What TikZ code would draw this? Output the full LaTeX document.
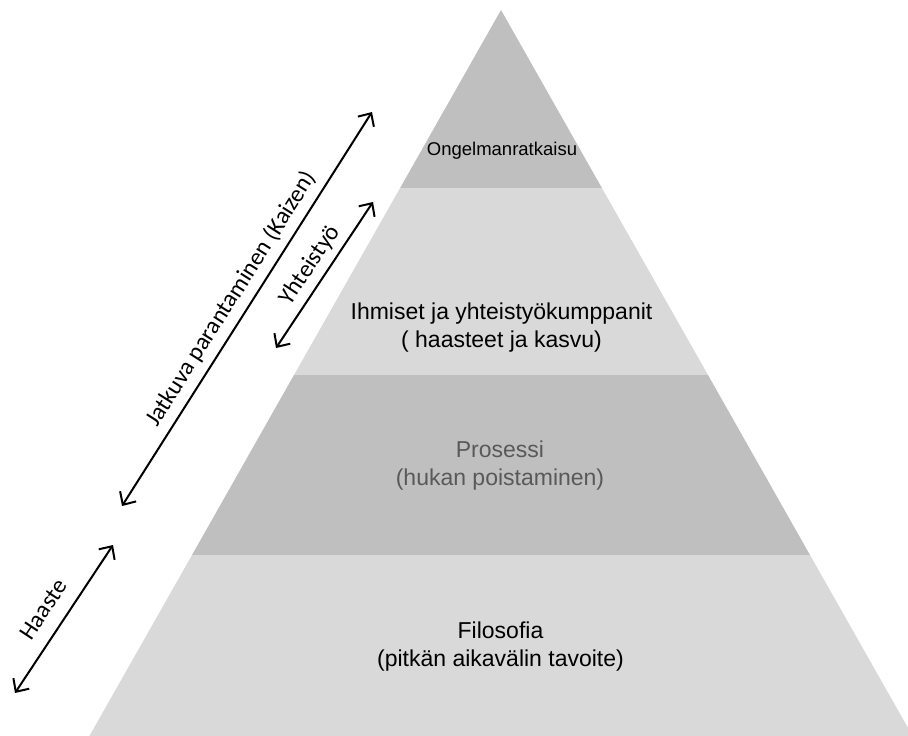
\documentclass[tikz,border=0pt]{standalone}
\usepackage{fontspec}
\setmainfont{Liberation Sans}
\newfontfamily\lblfont{Carlito}
\usetikzlibrary{arrows.meta,calc}
\definecolor{tierdark}{HTML}{BFBFBF}
\definecolor{tierlight}{HTML}{D9D9D9}
\definecolor{proctext}{HTML}{595959}
\begin{document}
\begin{tikzpicture}[x=1pt,y=-1pt,
  darktier/.style={fill=tierdark},
  lighttier/.style={fill=tierlight},
  tiertext/.style={inner sep=0pt, align=center, font=\fontsize{23}{28}\selectfont},
  dblarrow/.style={line width=2pt, {Straight Barb[length=10pt,width=19pt]}-{Straight Barb[length=10pt,width=19pt]}},
  armlbl/.style={inner sep=0pt, font=\lblfont\fontsize{24}{28}\selectfont}
]
\useasboundingbox (0,0) rectangle (908,736);
\clip (0,0) rectangle (908,736);
% pyramid corners
\coordinate (apex) at (501,10);
\coordinate (l1) at (400.1,188); \coordinate (r1) at (601.9,188);
\coordinate (l2) at (294.0,375); \coordinate (r2) at (708.0,375);
\coordinate (l3) at (192.0,555); \coordinate (r3) at (810.0,555);
\coordinate (l4) at (89.4,736);  \coordinate (r4) at (912.6,736);
\fill[darktier]  (apex) -- (r1) -- (l1) -- cycle;
\fill[lighttier] (l1) -- (r1) -- (r2) -- (l2) -- cycle;
\fill[darktier]  (l2) -- (r2) -- (r3) -- (l3) -- cycle;
\fill[lighttier] (l3) -- (r3) -- (r4) -- (l4) -- cycle;
% tier labels
\node[inner sep=0pt, font=\fontsize{18.5}{22}\selectfont] (t1) at (502,150.3) {Ongelmanratkaisu};
\node[tiertext] (t2) at (501.5,328) {Ihmiset ja yhteistyökumppanit\\( haasteet ja kasvu)};
\node[tiertext, text=proctext] (t3) at (500,466) {Prosessi\\(hukan poistaminen)};
\node[tiertext] (t4) at (500.5,647) {Filosofia\\(pitkän aikavälin tavoite)};
% arrows
\coordinate (k1) at (122,506); \coordinate (k2) at (372,112);
\coordinate (y1) at (276,348); \coordinate (y2) at (373,202);
\coordinate (h1) at (15,693);  \coordinate (h2) at (113,545);
\draw[dblarrow] (k1) -- (k2);
\draw[dblarrow] (y1) -- (y2);
\draw[dblarrow] (h1) -- (h2);
\coordinate (km) at ($(k1)!0.5!(k2)$);
\coordinate (ym) at ($(y1)!0.5!(y2)$);
\coordinate (hm) at ($(h1)!0.5!(h2)$);
\path let \p1=($(k2)-(k1)$), \n1={atan2(\y1,\x1)} in
  node[armlbl, rotate=\n1, anchor=base] (klbl) at ($(km)!12pt!90:(k2)$) {Jatkuva parantaminen (Kaizen)};
\path let \p1=($(y2)-(y1)$), \n1={atan2(\y1,\x1)} in
  node[armlbl, rotate=\n1, anchor=base] (ylbl) at ($(ym)!11pt!90:(y2)$) {Yhteistyö};
\coordinate (hm2) at ($(hm)!3.5pt!(h1)$);
\path let \p1=($(h2)-(h1)$), \n1={atan2(\y1,\x1)} in
  node[armlbl, rotate=\n1, anchor=base] (hlbl) at ($(hm2)!15pt!90:(h2)$) {Haaste};
\end{tikzpicture}
\end{document}
